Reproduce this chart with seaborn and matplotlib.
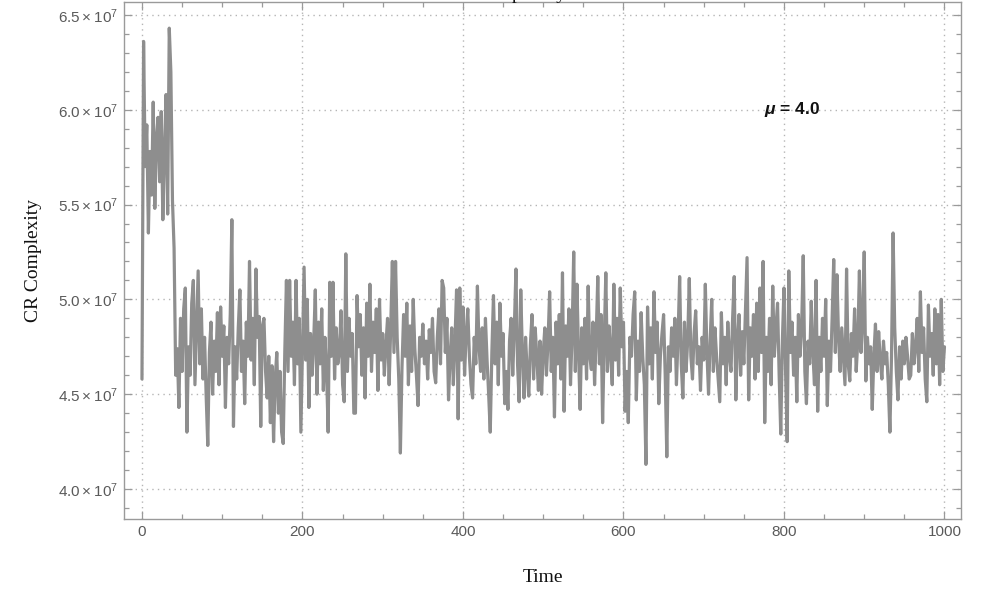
import numpy as np
import pandas as pd
import matplotlib
matplotlib.use("Agg")
import matplotlib.pyplot as plt
from matplotlib.ticker import MultipleLocator, FixedLocator
import seaborn as sns

cr_complexity = [
    # t = 0 .. 42
    4.58, 6.36, 5.70, 5.92, 5.35, 5.78, 5.55, 6.04, 5.48, 5.85, 5.96,
    5.62, 5.99, 5.42, 5.78, 6.08, 5.45, 6.43, 6.20, 5.52, 5.27, 4.60,
    # t = 44 .. 98
    4.74, 4.43, 4.90, 4.62, 4.95, 5.06, 4.30, 4.75, 4.60, 4.98, 5.10, 4.55, 4.85, 5.15,
    4.66, 4.95, 4.58, 4.80, 4.49, 4.23, 4.72, 4.88, 4.50, 4.78, 4.62, 4.93, 4.55, 4.96,
    # t = 100 .. 148
    4.70, 4.86, 4.43, 4.80, 4.66, 4.92, 5.42, 4.33, 4.75, 4.58, 4.85, 5.05, 4.62,
    4.78, 4.45, 4.88, 4.70, 5.20, 4.68, 4.90, 4.55, 5.16, 4.80, 4.91, 4.33,
    # t = 150 .. 198
    4.86, 4.90, 4.62, 4.48, 4.70, 4.35, 4.65, 4.25, 4.58, 4.72, 4.40, 4.62, 4.30,
    4.24, 4.73, 5.10, 4.62, 5.10, 4.70, 4.88, 4.55, 5.10, 4.66, 4.90, 4.30,
    # t = 200 .. 248
    4.75, 5.17, 4.68, 5.00, 4.43, 4.82, 4.60, 4.78, 5.05, 4.50, 4.88, 4.66, 4.95,
    4.52, 4.80, 4.62, 4.30, 5.09, 4.70, 5.09, 4.58, 4.85, 4.66, 4.72, 4.94,
    # t = 250 .. 298
    4.55, 4.46, 5.24, 4.62, 4.90, 4.70, 4.82, 4.40, 4.40, 5.02, 4.75, 4.92, 4.60,
    4.85, 4.48, 4.98, 4.70, 5.08, 4.62, 4.88, 4.72, 4.95, 4.52, 5.00, 4.68,
    # t = 300 .. 348
    4.82, 4.60, 4.76, 4.90, 4.55, 4.86, 5.20, 4.72, 5.20, 4.80, 4.58, 4.19, 4.64,
    4.92, 4.70, 4.98, 4.55, 4.86, 4.62, 5.00, 4.74, 4.60, 4.44, 4.80, 4.70,
    # t = 350 .. 398
    4.87, 4.66, 4.78, 4.58, 4.84, 4.72, 4.90, 4.62, 4.56, 4.80, 4.95, 4.66, 5.10,
    5.06, 4.72, 4.90, 4.47, 4.70, 4.85, 4.55, 4.78, 5.05, 4.37, 5.06, 4.68,
    # t = 400 .. 448
    4.96, 4.60, 4.82, 4.95, 4.70, 4.55, 4.48, 4.80, 4.66, 5.07, 4.75, 4.62, 4.85,
    4.58, 4.90, 4.68, 4.50, 4.30, 4.72, 5.02, 4.66, 4.88, 4.55, 4.98, 4.70,
    # t = 450 .. 498
    4.82, 4.45, 4.62, 4.42, 4.78, 4.90, 4.60, 4.85, 5.16, 4.66, 4.46, 5.05, 4.72,
    4.48, 4.80, 4.62, 4.49, 4.76, 4.92, 4.58, 4.85, 4.70, 4.52, 4.78, 4.50,
    # t = 500 .. 548
    4.72, 4.85, 4.60, 4.78, 5.04, 4.62, 4.80, 4.38, 4.88, 4.66, 4.92, 4.58, 5.14,
    4.41, 4.86, 4.70, 4.95, 4.55, 4.82, 5.25, 4.62, 5.08, 4.72, 4.42, 4.85,
    # t = 550 .. 598
    4.66, 4.90, 4.58, 5.07, 4.70, 4.63, 4.88, 4.55, 4.80, 5.12, 4.66, 4.92, 4.35,
    4.78, 5.14, 4.62, 4.86, 4.72, 4.55, 5.08, 4.68, 4.90, 4.60, 5.06, 4.75,
    # t = 600 .. 648
    4.88, 4.41, 4.62, 4.35, 4.80, 4.70, 4.92, 5.04, 4.47, 4.78, 4.62, 4.93, 4.70,
    4.55, 4.13, 4.96, 4.66, 4.85, 4.58, 5.04, 4.72, 4.88, 4.45, 4.70, 4.82,
    # t = 650 .. 698
    4.92, 4.60, 4.17, 4.75, 4.62, 4.85, 4.70, 4.90, 4.55, 4.80, 5.12, 4.66, 4.48,
    4.88, 4.62, 4.78, 5.11, 4.70, 4.58, 4.82, 4.94, 4.66, 4.75, 4.52, 4.80,
    # t = 700 .. 748
    4.68, 5.08, 4.72, 4.50, 4.78, 5.00, 4.62, 4.85, 4.70, 4.58, 4.46, 4.93, 4.66,
    4.80, 4.55, 4.88, 4.70, 4.62, 4.90, 5.12, 4.47, 4.78, 4.92, 4.60, 4.83,
    # t = 750 .. 798
    4.66, 4.95, 5.22, 4.47, 4.85, 4.70, 4.92, 4.58, 4.98, 4.62, 5.06, 4.72, 5.20,
    4.35, 4.80, 4.62, 4.90, 4.55, 5.07, 4.70, 4.85, 4.98, 4.60, 4.29, 4.78,
    # t = 800 .. 848
    5.06, 4.62, 4.25, 5.15, 4.72, 4.88, 4.60, 4.80, 4.46, 4.92, 4.70, 4.85, 5.23,
    4.62, 4.45, 4.78, 4.66, 4.99, 4.72, 4.55, 5.10, 4.41, 4.80, 4.62, 4.90,
    # t = 850 .. 898
    4.70, 5.00, 4.44, 4.78, 4.62, 4.90, 5.21, 4.72, 5.13, 4.80, 4.62, 4.85, 4.70,
    4.55, 5.16, 4.66, 4.57, 4.82, 4.70, 4.95, 4.62, 4.78, 5.15, 4.72, 4.88,
    # t = 900 .. 948
    5.25, 4.57, 4.80, 4.66, 4.75, 4.42, 4.70, 4.87, 4.62, 4.83, 4.68, 4.58, 4.78,
    4.66, 4.72, 4.55, 4.30, 4.70, 5.35, 4.85, 4.62, 4.47, 4.75, 4.58, 4.78,
    # t = 950 .. 1000
    4.66, 4.80, 4.70, 4.58, 4.60, 4.82, 4.66, 4.75, 4.90, 4.62, 5.04, 4.72, 4.85,
    4.58, 4.46, 4.97, 4.70, 4.82, 4.60, 4.95, 4.66, 4.92, 4.55, 5.00, 4.62, 4.75,
]
time_step = 2
x_ticks = [0, 200, 400, 600, 800, 1000]
y_ticks = [4.0e7, 4.5e7, 5.0e7, 5.5e7, 6.0e7, 6.5e7]
y_tick_labels = ["4.0", "4.5", "5.0", "5.5", "6.0", "6.5"]

df = pd.DataFrame({
    "Time": np.arange(len(cr_complexity)) * time_step,
    "CR Complexity": np.array(cr_complexity) * 1e7,
})

sns.set_style("ticks")
plt.rcParams["font.family"] = ["Liberation Sans", "DejaVu Sans"]
plt.rcParams["mathtext.fontset"] = "custom"
plt.rcParams["mathtext.rm"] = "Liberation Sans"
plt.rcParams["mathtext.it"] = "Liberation Sans:italic:bold"

frame_col = "#9a9a9a"
tick_col = "#5a5a5a"
serif = ["Liberation Serif", "DejaVu Serif"]

fig = plt.figure(figsize=(9.95, 6.11), dpi=100)
ax = fig.add_axes([124 / 995, 1 - 519 / 611, (961 - 124) / 995, (519 - 2) / 611])

sns.lineplot(data=df, x="Time", y="CR Complexity", ax=ax, estimator=None,
             color="#8e8e8e", linewidth=2.3)

ax.set_xlim(-22.4, 1020.6)
ax.set_ylim(3.842e7, 6.568e7)

ax.xaxis.set_major_locator(FixedLocator(x_ticks))
ax.xaxis.set_minor_locator(MultipleLocator(50))
ax.yaxis.set_major_locator(FixedLocator(y_ticks))
ax.yaxis.set_minor_locator(MultipleLocator(1e6))
ax.set_yticklabels([r"$\mathregular{%s\times10^{7}}$" % s for s in y_tick_labels])

ax.tick_params(which="both", direction="in", top=True, right=True,
               color=frame_col, labelcolor=tick_col, labelsize=11, width=0.9)
ax.tick_params(which="major", length=6)
ax.tick_params(which="minor", length=3.5)
ax.tick_params(axis="x", which="major", pad=4)
ax.tick_params(axis="y", which="major", pad=4)
ax.tick_params(axis="x", labeltop=False)
ax.tick_params(axis="y", labelright=False)

for sp in ax.spines.values():
    sp.set_color(frame_col)
    sp.set_linewidth(1.0)

ax.grid(True, which="major", linestyle=(0, (1, 3)), color="#b5b5b5", linewidth=1.0)

ax.set_xlabel("Time", family=serif, fontsize=14, color="#111111", labelpad=22)
ax.set_ylabel("CR Complexity", family=serif, fontsize=14, color="#111111", labelpad=12)

ax.text(810, 6.0e7, r"$\mu$ = 4.0", ha="center", va="center", fontsize=12.5,
        fontweight="bold", color="#111111")

# title sits above the frame; only the descenders peek into the image
fig.text(505 / 995, 1 + 1.5 / 611, "CR Complexity", ha="center", va="baseline",
         family=serif, fontsize=14, color="#111111")

fig.savefig("out.png", dpi=100)
